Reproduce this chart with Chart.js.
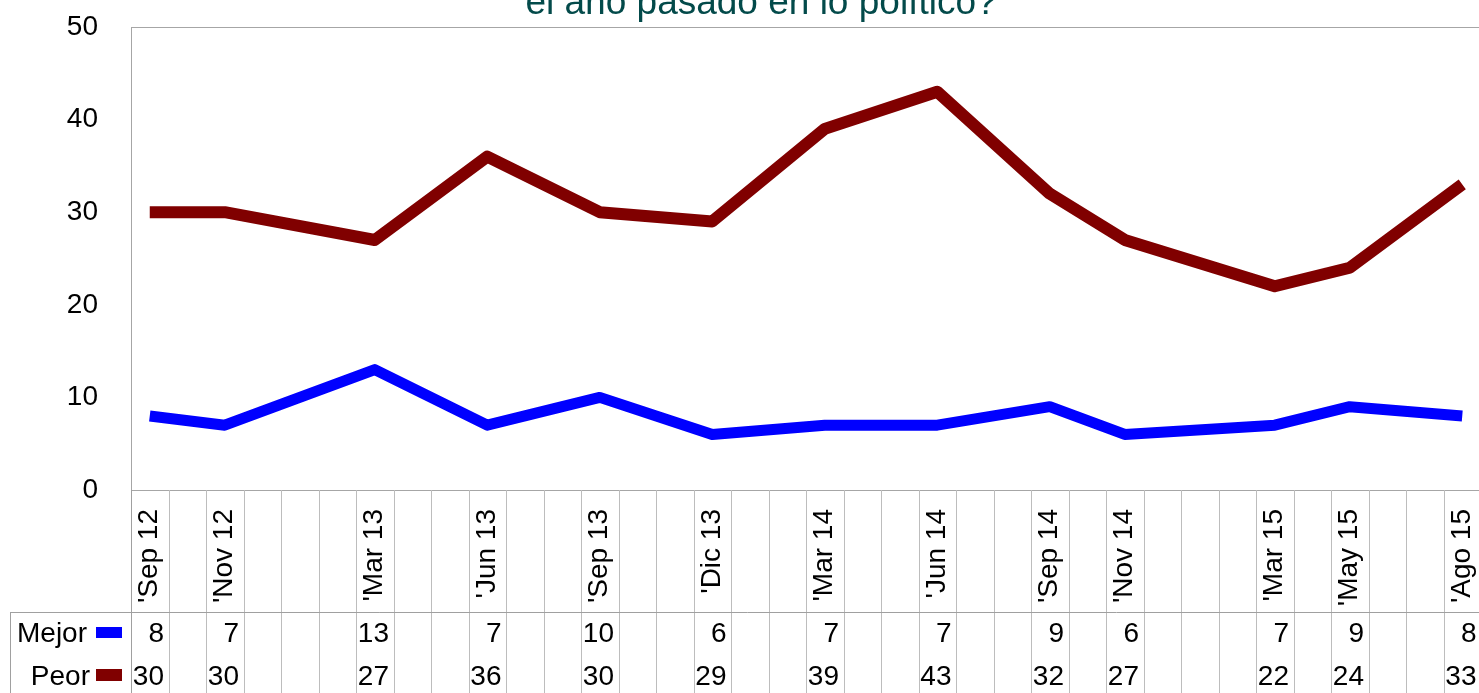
<!DOCTYPE html>
<html>
<head>
<meta charset="utf-8">
<script src="https://cdn.jsdelivr.net/npm/chart.js@4"></script>
<style>
  html, body { margin: 0; padding: 0; background: #fff; overflow: hidden; }
  canvas { display: block; }
</style>
</head>
<body>
<canvas id="chart" width="1485" height="693"></canvas>
<script>
// one slot per month, survey months only are labelled
const months = ["'Sep 12", '', "'Nov 12", '', '', '', "'Mar 13", '', '', "'Jun 13", '', '',
  "'Sep 13", '', '', "'Dic 13", '', '', "'Mar 14", '', '', "'Jun 14", '', '',
  "'Sep 14", '', "'Nov 14", '', '', '', "'Mar 15", '', "'May 15", '', '', "'Ago 15"];
const mejor = [8, null, 7, null, null, null, 13, null, null, 7, null, null,
  10, null, null, 6, null, null, 7, null, null, 7, null, null,
  9, null, 6, null, null, null, 7, null, 9, null, null, 8];
const peor = [30, null, 30, null, null, null, 27, null, null, 36, null, null,
  30, null, null, 29, null, null, 39, null, null, 43, null, null,
  32, null, 27, null, null, null, 22, null, 24, null, null, 33];
const yTicks = [0, 10, 20, 30, 40, 50];
const titleText = 'el año pasado en lo político?';

const FONT = '"Liberation Sans", Arial, sans-serif';
const colors = { mejor: '#0000ff', peor: '#800000' };

// keep Chart.js from reserving extra room for overflowing tick labels
function noPad(scale) {
  scale.paddingTop = 0; scale.paddingBottom = 0;
  scale.paddingLeft = 0; scale.paddingRight = 0;
}

const frame = {
  id: 'frame',
  beforeDatasetsDraw(chart) {
    const { ctx, chartArea: a } = chart;
    ctx.save();
    ctx.strokeStyle = '#a6a6a6';
    ctx.lineWidth = 1;
    ctx.strokeRect(a.left + 0.5, a.top + 0.5, a.right - a.left, a.bottom - a.top);
    ctx.restore();
  },
  afterDraw(chart) {
    const { ctx, chartArea: a, scales } = chart;
    const x = scales.x;
    const colW = (a.right - a.left) / months.length;
    const rowTop = 612, h = chart.height;
    ctx.save();

    // title, partly cut by the top edge
    ctx.fillStyle = '#034a4a';
    ctx.font = `37px ${FONT}`;
    ctx.textAlign = 'center';
    ctx.textBaseline = 'alphabetic';
    ctx.fillText(titleText, 761, 14);

    // data table grid
    ctx.lineWidth = 1;
    ctx.strokeStyle = '#bdbdbd';
    for (let i = 1; i <= months.length; i++) {
      const lx = Math.round(a.left + i * colW) + 0.5;
      ctx.beginPath(); ctx.moveTo(lx, a.bottom); ctx.lineTo(lx, h); ctx.stroke();
    }
    ctx.strokeStyle = '#a0a0a0';
    ctx.beginPath();
    ctx.moveTo(a.left + 0.5, a.bottom); ctx.lineTo(a.left + 0.5, h);
    ctx.moveTo(10.5, rowTop + 0.5); ctx.lineTo(chart.width, rowTop + 0.5);
    ctx.moveTo(10.5, rowTop); ctx.lineTo(10.5, h);
    ctx.stroke();

    // row headers with legend keys
    const rows = [
      { ds: 0, base: 642, right: 87, keyTop: 627, keyH: 11 },
      { ds: 1, base: 685, right: 90, keyTop: 669, keyH: 12 },
    ];
    ctx.font = `28px ${FONT}`;
    ctx.textBaseline = 'alphabetic';
    rows.forEach(r => {
      const ds = chart.data.datasets[r.ds];
      ctx.fillStyle = '#000';
      ctx.textAlign = 'right';
      ctx.fillText(ds.label, r.right, r.base);
      ctx.fillStyle = ds.borderColor;
      ctx.fillRect(96, r.keyTop, 26, r.keyH);
      ctx.fillStyle = '#000';
      ds.data.forEach((v, i) => {
        if (v === null) return;
        const cx = x.getPixelForValue(i) + colW / 2 - 4.5;
        ctx.fillText(String(v), cx, r.base);
      });
    });
    ctx.restore();
  }
};

new Chart(document.getElementById('chart'), {
  type: 'line',
  data: {
    labels: months,
    datasets: [
      { label: 'Mejor', data: mejor, borderColor: colors.mejor, backgroundColor: colors.mejor, borderWidth: 11 },
      { label: 'Peor', data: peor, borderColor: colors.peor, backgroundColor: colors.peor, borderWidth: 12 },
    ],
  },
  options: {
    responsive: false,
    animation: false,
    spanGaps: true,
    layout: { padding: { top: 27, right: 4, bottom: 81, left: 0 } },
    elements: {
      line: { tension: 0, borderCapStyle: 'butt', borderJoinStyle: 'round' },
      point: { radius: 0, hoverRadius: 0 },
    },
    plugins: { legend: { display: false }, tooltip: { enabled: false }, title: { display: false } },
    scales: {
      x: {
        offset: true,
        grid: { display: false, drawTicks: false },
        border: { display: false },
        ticks: { autoSkip: false, minRotation: 90, maxRotation: 90, padding: 19, color: '#000', font: { family: FONT, size: 28 } },
        afterFit(scale) { scale.height = 122; noPad(scale); },
      },
      y: {
        min: 0, max: 50,
        afterBuildTicks(scale) { scale.ticks = yTicks.map(v => ({ value: v })); },
        grid: { display: false, drawTicks: false },
        border: { display: false },
        ticks: { padding: 33, color: '#000', font: { family: FONT, size: 28 } },
        afterFit(scale) { scale.width = 131; noPad(scale); },
      },
    },
  },
  plugins: [frame],
});
</script>
</body>
</html>
